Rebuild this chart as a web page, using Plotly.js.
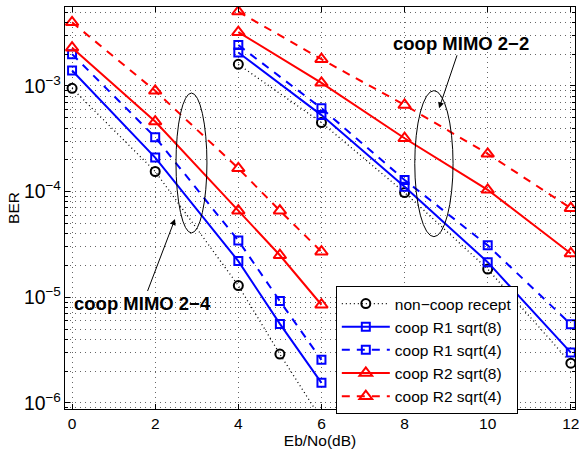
<!DOCTYPE html>
<html>
<head>
<meta charset="utf-8">
<script src="https://cdn.plot.ly/plotly-3.0.1.min.js"></script>
<style>html,body{margin:0;padding:0;background:#fff}#chart{width:579px;height:453px}</style>
</head>
<body>
<div id="chart"></div>
<script>
// Eb/No (dB) for the two groups of curves
const snrMimo24 = [0, 2, 4, 5, 6];
const snrMimo22 = [4, 6, 8, 10, 12];

// BER values, coop MIMO 2-4 group
const nonCoop24 = [9.5e-4, 1.55e-4, 1.29e-5, 2.9e-6, 7e-7];
const r1s8_24   = [1.4e-3, 2.1e-4, 2.2e-5, 5.6e-6, 1.55e-6];
const r1s4_24   = [2.0e-3, 3.27e-4, 3.44e-5, 9.2e-6, 2.56e-6];
const r2s8_24   = [2.3e-3, 4.6e-4, 6.6e-5, 2.5e-5, 8.5e-6];
const r2s4_24   = [4.0e-3, 9.0e-4, 1.66e-4, 6.6e-5, 2.7e-5];

// BER values, coop MIMO 2-2 group
const nonCoop22 = [1.6e-3, 4.5e-4, 9.8e-5, 1.85e-5, 2.38e-6];
const r1s8_22   = [2.07e-3, 5.3e-4, 1.11e-4, 2.15e-5, 3.0e-6];
const r1s4_22   = [2.44e-3, 6.15e-4, 1.29e-4, 3.1e-5, 5.56e-6];
const r2s8_22   = [3.23e-3, 1.07e-3, 3.2e-4, 1.04e-4, 2.6e-5];
const r2s4_22   = [5.05e-3, 1.79e-3, 6.6e-4, 2.28e-4, 6.97e-5];

const seriesNames = ['non\u2212coop recept', 'coop R1 sqrt(8)', 'coop R1 sqrt(4)', 'coop R2 sqrt(8)', 'coop R2 sqrt(4)'];

const joinX = snrMimo24.concat([null], snrMimo22);
function joinY(a, b) { return a.concat([null], b); }

const FONT = 'Liberation Sans, Arial, Helvetica, sans-serif';

const traces = [
  {name: seriesNames[0], y: joinY(nonCoop24, nonCoop22),
   line: {color: '#000', width: 1.3, dash: '1px,3px'},
   marker: {symbol: 'circle-open', size: 9, color: '#000', line: {width: 2}}},
  {name: seriesNames[1], y: joinY(r1s8_24, r1s8_22),
   line: {color: '#0000ff', width: 2, dash: 'solid'},
   marker: {symbol: 'square-open', size: 8, color: '#0000ff', line: {width: 2}}},
  {name: seriesNames[2], y: joinY(r1s4_24, r1s4_22),
   line: {color: '#0000ff', width: 2, dash: '8px,7px'},
   marker: {symbol: 'square-open', size: 8, color: '#0000ff', line: {width: 2}}},
  {name: seriesNames[3], y: joinY(r2s8_24, r2s8_22),
   line: {color: '#ff0000', width: 2, dash: 'solid'},
   marker: {symbol: 'triangle-up-open', size: 11, color: '#ff0000', line: {width: 2}}},
  {name: seriesNames[4], y: joinY(r2s4_24, r2s4_22),
   line: {color: '#ff0000', width: 2, dash: '8px,7px'},
   marker: {symbol: 'triangle-up-open', size: 11, color: '#ff0000', line: {width: 2}}}
].map(t => Object.assign({x: joinX, type: 'scatter', mode: 'lines+markers', connectgaps: false}, t));

const gridStyle = {gridcolor: '#666', griddash: '1px,4px', gridwidth: 1};

const layout = {
  width: 579, height: 453,
  margin: {l: 65, r: 4, t: 7, b: 44},
  paper_bgcolor: '#fff', plot_bgcolor: '#fff',
  font: {family: FONT, size: 15.5, color: '#000'},
  showlegend: true,
  legend: {x: 0.531, y: 0.306, xanchor: 'left', yanchor: 'top',
           bgcolor: '#fff', bordercolor: '#000', borderwidth: 1,
           font: {family: FONT, size: 15.5, color: '#000'}, itemwidth: 48},
  xaxis: Object.assign({
    range: [-0.17, 12.1], dtick: 2, tick0: 0,
    showgrid: true, zeroline: false,
    showline: true, linecolor: '#000', linewidth: 1, mirror: 'allticks',
    ticks: 'inside', ticklen: 5, tickcolor: '#000',
    ticklabeloverflow: 'allow',
    tickfont: {family: FONT, size: 15.5},
    title: {text: 'Eb/No(dB)', font: {family: FONT, size: 15.5}, standoff: 4}
  }, gridStyle),
  yaxis: Object.assign({
    type: 'log', range: [-6.057, -2.253], dtick: 1,
    exponentformat: 'power',
    showgrid: true, zeroline: false,
    showline: true, linecolor: '#000', linewidth: 1, mirror: 'allticks',
    ticks: 'inside', ticklen: 5, tickcolor: '#000',
    tickfont: {family: FONT, size: 15.5},
    minor: {dtick: 'D1', ticks: 'inside', ticklen: 3, tickcolor: '#000', showgrid: true,
            gridcolor: '#666', griddash: '1px,4px', gridwidth: 1},
    title: {text: 'BER', font: {family: FONT, size: 15.5}, standoff: 0}
  }, gridStyle),
  shapes: [
    {type: 'circle', xref: 'x', yref: 'paper', x0: 2.5, x1: 3.245, y0: 0.438, y1: 0.786,
     line: {color: '#000', width: 1}},
    {type: 'circle', xref: 'x', yref: 'paper', x0: 8.245, x1: 9.166, y0: 0.4286, y1: 0.792,
     line: {color: '#000', width: 1}}
  ],
  annotations: [
    {text: '<b>coop MIMO 2\u22122</b>', xref: 'x', yref: 'paper', x: 8.83, y: 0.748,
     ax: 22, ay: -65, showarrow: true, arrowhead: 2, arrowsize: 1.2, arrowwidth: 1, arrowcolor: '#000',
     font: {family: FONT, size: 18.5, color: '#000'}},
    {text: '<b>coop MIMO 2\u22124</b>', xref: 'x', yref: 'paper', x: 2.476, y: 0.4726,
     ax: -32, ay: 84, showarrow: true, arrowhead: 2, arrowsize: 1.2, arrowwidth: 1, arrowcolor: '#000',
     font: {family: FONT, size: 18.5, color: '#000'}}
  ]
};

Plotly.newPlot('chart', traces, layout, {displayModeBar: false, staticPlot: true});
</script>
</body>
</html>
